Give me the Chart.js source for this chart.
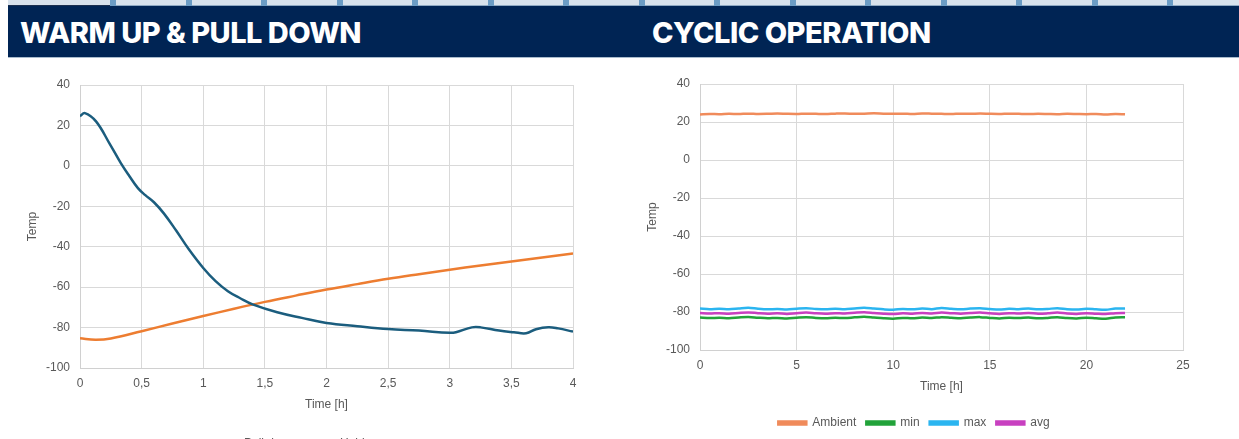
<!DOCTYPE html>
<html>
<head>
<meta charset="utf-8">
<script src="https://cdn.jsdelivr.net/npm/chart.js@4.4.1/dist/chart.umd.min.js"></script>
<style>
  html, body { margin: 0; padding: 0; background: #fff; }
  body { width: 1239px; height: 439px; overflow: hidden; position: relative; }
  .strip { position: absolute; left: 8px; top: 0; width: 1231px; height: 5px; background: #d8e2ec;
           border-bottom: 1px solid #8fa9c2; }
  .strip .dark { position: absolute; left: 0; bottom: -1px; width: 102px; height: 1px; background: #1b2f4f; }
  .mark { position: absolute; top: 0; width: 6px; height: 6px; background: #6b9cc4; }
  .band { position: absolute; left: 8px; top: 6px; width: 1231px; height: 51px; background: #002454;
          border-bottom: 1px solid #a9bbcd; }
  .title { position: absolute; top: 15px; color: #fff; font-family: Inter, "Open Sans", sans-serif;
           font-weight: 800; font-size: 29px; letter-spacing: -0.5px; white-space: nowrap; }
  .box { position: absolute; top: 60px; }
</style>
</head>
<body>
<div class="strip" id="strip"><div class="dark"></div></div>
<div class="band"></div>
<div class="title" style="left:20px">WARM UP &amp; PULL DOWN</div>
<div class="title" style="left:652px">CYCLIC OPERATION</div>
<div class="box" style="left:0; width:620px; height:400px"><canvas id="warmChart"></canvas></div>
<div class="box" style="left:620px; width:619px; height:379px"><canvas id="cyclicChart"></canvas></div>

<script>
// ---- warm up & pull down ----
var pullDownTime = [0, 0.04, 0.13, 0.24, 0.33, 0.40, 0.47, 0.53, 0.60, 0.68, 0.78, 0.88, 1.0, 1.1, 1.2, 1.3, 1.4,
  1.6, 1.8, 2.0, 2.25, 2.5, 2.75, 3.0, 3.05, 3.18, 3.25, 3.4, 3.52, 3.62, 3.7, 3.8, 3.88, 4.0];
var pullDownTemp = [24.6, 26.1, 22, 11, 1.5, -5, -11, -14.5, -18, -23.5, -32, -41, -50.5, -57, -62, -65.5, -68.5,
  -72.4, -75.2, -77.7, -79.3, -80.7, -81.5, -82.6, -82.3, -79.9, -79.9, -81.5, -82.3, -82.8, -80.8, -79.8, -80.4, -82];

var holdoverTime = [0, 0.125, 0.25, 0.5, 0.75, 1.0, 1.25, 1.5, 1.75, 2.0, 2.25, 2.5, 2.75, 3.0, 3.25, 3.5, 3.75, 4.0];
var holdoverTemp = [-85.3, -86, -85.4, -81.8, -78, -74.3, -70.7, -67.3, -64.2, -61.2, -58.5, -55.9, -53.6, -51.4,
  -49.3, -47.3, -45.3, -43.4];

// ---- cyclic operation ----
var cycleTime = [0, 0.5, 1, 1.5, 2, 2.5, 3, 3.5, 4, 4.5, 5, 5.5, 6, 6.5, 7, 7.5, 8, 8.5, 9, 9.5, 10, 10.5, 11,
  11.5, 12, 12.5, 13, 13.5, 14, 14.5, 15, 15.5, 16, 16.5, 17, 17.5, 18, 18.5, 19, 19.5, 20, 20.5, 21, 21.5, 22];
var ambientTemp = [24.0, 24.2, 24.1, 24.3, 24.2, 24.4, 24.2, 24.3, 24.5, 24.3, 24.2, 24.4, 24.3, 24.2, 24.4, 24.5,
  24.3, 24.4, 24.6, 24.4, 24.3, 24.4, 24.2, 24.5, 24.4, 24.3, 24.2, 24.4, 24.3, 24.5, 24.3, 24.2, 24.4, 24.3, 24.2,
  24.3, 24.2, 24.1, 24.3, 24.2, 24.1, 24.2, 24.0, 24.2, 24.1];
var minTemp = [-82.9, -83.2, -83.0, -83.3, -82.9, -82.6, -83.0, -83.3, -83.1, -83.4, -83.0, -82.7, -83.1, -83.3,
  -83.0, -83.2, -82.8, -82.5, -82.9, -83.3, -83.5, -83.1, -83.3, -82.9, -83.2, -82.7, -83.0, -83.3, -82.9, -82.7,
  -83.1, -83.4, -83.0, -83.2, -82.9, -83.3, -83.1, -82.7, -83.2, -83.4, -83.0, -83.3, -83.5, -82.9, -82.8];
var maxTemp = [-78.2, -78.5, -78.3, -78.6, -78.2, -77.8, -78.3, -78.6, -78.4, -78.7, -78.3, -78.0, -78.4, -78.6,
  -78.3, -78.5, -78.1, -77.8, -78.2, -78.6, -78.8, -78.4, -78.6, -78.2, -78.5, -77.9, -78.3, -78.6, -78.2, -78.0,
  -78.4, -78.7, -78.3, -78.5, -78.2, -78.6, -78.4, -78.0, -78.5, -78.7, -78.3, -78.6, -78.8, -78.2, -78.1];
var avgTemp = [-80.5, -80.8, -80.6, -80.9, -80.5, -80.2, -80.6, -80.9, -80.7, -81.0, -80.6, -80.3, -80.7, -80.9,
  -80.6, -80.8, -80.4, -80.1, -80.5, -80.9, -81.1, -80.7, -80.9, -80.5, -80.8, -80.3, -80.6, -80.9, -80.5, -80.3,
  -80.7, -81.0, -80.6, -80.8, -80.5, -80.9, -80.7, -80.3, -80.8, -81.0, -80.6, -80.9, -81.1, -80.6, -80.5];

var yTicks = { min: -100, max: 40, step: 20 };

// top strip markers
var strip = document.getElementById('strip');
for (var mx = 102; mx < 1240; mx += 75.5) {
  var m = document.createElement('div');
  m.className = 'mark';
  m.style.left = Math.round(mx) + 'px';
  strip.appendChild(m);
}

Chart.defaults.font.family = "'Liberation Sans Narrow', 'Arial Narrow', 'Liberation Sans', sans-serif";
Chart.defaults.font.size = 12;
Chart.defaults.color = '#595959';

function toPoints(xs, ys) {
  return xs.map(function (x, i) { return { x: x, y: ys[i] }; });
}

function lineSet(label, xs, ys, color, width, tension) {
  return {
    label: label,
    data: toPoints(xs, ys),
    borderColor: color,
    backgroundColor: color,
    borderWidth: width,
    pointRadius: 0,
    showLine: true,
    tension: tension,
    fill: false
  };
}

// extra: pushes the legend further below the x axis title
function makeOptions(xMax, xStep, padRight, padTop, extra) {
  return {
    responsive: true,
    maintainAspectRatio: false,
    animation: false,
    layout: { padding: { left: 25, right: padRight, top: padTop, bottom: 0 } },
    plugins: {
      tooltip: { enabled: false },
      legend: {
        position: 'bottom',
        labels: { boxWidth: 28, boxHeight: 3, padding: 10, font: { size: 12 }, color: '#595959' }
      }
    },
    scales: {
      x: {
        type: 'linear',
        min: 0, max: xMax,
        ticks: {
          stepSize: xStep, padding: 8,
          callback: function (v) { return String(v).replace('.', ','); }
        },
        grid: { color: '#d9d9d9', drawTicks: false },
        border: { color: '#d0d0d0' },
        title: { display: true, text: 'Time [h]', padding: { top: 0, bottom: 13 + extra }, font: { size: 12 } },
        afterFit: function (s) { s.height = 57 + extra; }
      },
      y: {
        min: yTicks.min, max: yTicks.max,
        ticks: { stepSize: yTicks.step, padding: 10 },
        grid: { color: '#d9d9d9', drawTicks: false },
        border: { color: '#d0d0d0' },
        title: { display: true, text: 'Temp', padding: 0, font: { size: 12 } },
        afterFit: function (s) { s.width = 55; }
      }
    }
  };
}

new Chart(document.getElementById('warmChart'), {
  type: 'scatter',
  data: {
    datasets: [
      lineSet('Pull down', pullDownTime, pullDownTemp, '#1b5d7e', 2.5, 0.4),
      lineSet('Holdover', holdoverTime, holdoverTemp, '#ed7d31', 2.5, 0.4)
    ]
  },
  options: makeOptions(4, 0.5, 47, 25, 3)
});

new Chart(document.getElementById('cyclicChart'), {
  type: 'scatter',
  data: {
    datasets: [
      lineSet('Ambient', cycleTime, ambientTemp, '#f08b5b', 2.5, 0.3),
      lineSet('min', cycleTime, minTemp, '#22a33a', 2.5, 0.3),
      lineSet('max', cycleTime, maxTemp, '#2bb5f0', 2.5, 0.3),
      lineSet('avg', cycleTime, avgTemp, '#c840c0', 2.5, 0.3)
    ]
  },
  options: makeOptions(25, 5, 56, 24, 0)
});
</script>
</body>
</html>
